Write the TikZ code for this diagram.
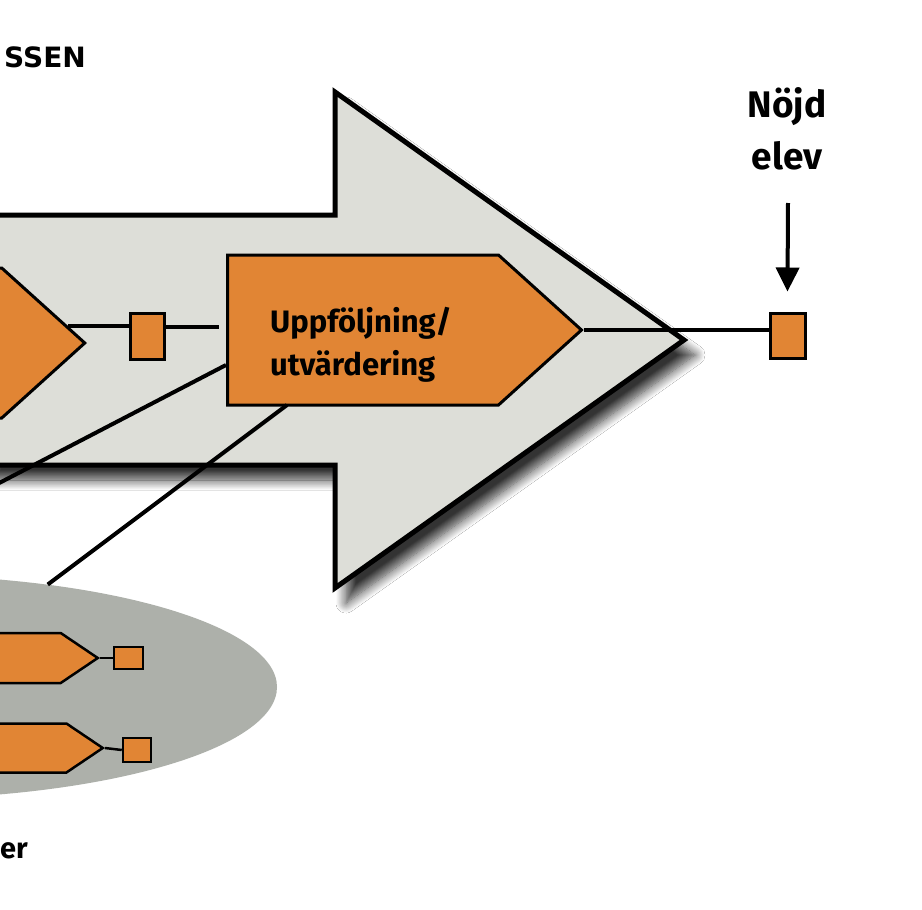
\documentclass[tikz,border=0pt]{standalone}
\usepackage{fontspec}
\setmainfont{Fira Sans}
\newfontfamily\rubrikfont{DejaVu Sans}[BoldFont={DejaVu Sans Bold}]
\usetikzlibrary{shapes.symbols,shapes.geometric,arrows.meta,calc,shadows.blur}

\definecolor{stegorange}{HTML}{E18534}
\definecolor{pilgra}{HTML}{DDDED8}
\definecolor{stodgra}{HTML}{ADB0AA}

\tikzset{
  steg/.style={shape=signal, signal to=east, draw=black, fill=stegorange,
    line width=3pt, inner sep=0pt},
  ruta/.style={draw=black, fill=stegorange, line width=3pt, inner sep=0pt},
  koppling/.style={black, line width=4pt},
  etikett/.style={font=\bfseries\fontsize{31}{43}\selectfont, align=left}
}

\begin{document}
\begin{tikzpicture}[x=1pt,y=-1pt]
   \useasboundingbox[fill=white] (0,0) rectangle (922,910);
   % stora processpilen
   \draw[black, line width=5pt, fill=pilgra,
     blur shadow={shadow xshift=11pt, shadow yshift=-15pt, shadow blur radius=10pt, shadow blur steps=12, shadow opacity=80}]
     (-20,215) -- (335,215) -- (335,92) -- (684,340) -- (335,588) -- (335,465) -- (-20,465) -- cycle;
   \node at (86,67) [anchor=base east, inner sep=0pt, font=\rubrikfont\bfseries\fontsize{28}{34}\selectfont] {SSEN};

   % stodprocesserna
   \node (stod) at (-110,687) [ellipse, fill=stodgra, minimum width=774, minimum height=224, inner sep=0pt] {};
   \node (p1) at (100,658) [steg, anchor=east, line width=2.5pt, signal pointer angle=68, minimum width=300, minimum height=50] {};
   \node (q1) at (128.5,658) [ruta, line width=2.5pt, minimum width=29, minimum height=22] {};
   \node (p2) at (105,748) [steg, anchor=east, line width=2.5pt, signal pointer angle=68, minimum width=300, minimum height=49] {};
   \node (q2) at (137,750) [ruta, line width=2.5pt, minimum width=28, minimum height=24] {};
   \draw[black, line width=2.5pt] (p1.east) -- (q1.west);
   \draw[black, line width=2.5pt] (p2.east) -- (q2.west);
   \node at (0,858) [anchor=base west, inner sep=0pt, font=\bfseries\fontsize{29}{34}\selectfont] {er};

   % huvudprocessen
   \node (genomf) at (87,343) [steg, anchor=east, signal pointer angle=84.2, minimum width=300, minimum height=150] {};
   \node (uppf) at (226,330) [steg, anchor=west, signal pointer angle=84.2, minimum width=354, minimum height=150] {};
   \node (upptext) at (361,345) [etikett] {Uppföljning/\\utvärdering};
   \node (s1) at (147,336) [ruta, minimum width=34, minimum height=46] {};
   \node (nojd) at (787.5,335.5) [ruta, minimum width=35, minimum height=45] {};
   \node (nojdtext) at (787,129) [font=\bfseries\fontsize{37}{52}\selectfont, align=center] {Nöjd\\elev};

   \coordinate (g1) at ($(genomf.east)+(-19,-17)$);
   \coordinate (u1) at ($(uppf.west)+(-7,-3)$);
   \draw[koppling] (g1) -- (g1 -| s1.west);
   \draw[koppling] (s1.east |- u1) -- (u1);
   \draw[koppling] (uppf.east) -- (uppf.east -| nojd.west);
   \draw[koppling] ($(uppf.west)+(0,35)$) -- (-20,493);
   \draw[koppling] ($(uppf.west)+(61,75)$) -- (stod.33);
   \draw[black, line width=4pt, -{Triangle[width=23pt,length=24pt]}] (788,203) -- ([yshift=20pt]nojd.north);
\end{tikzpicture}
\end{document}
